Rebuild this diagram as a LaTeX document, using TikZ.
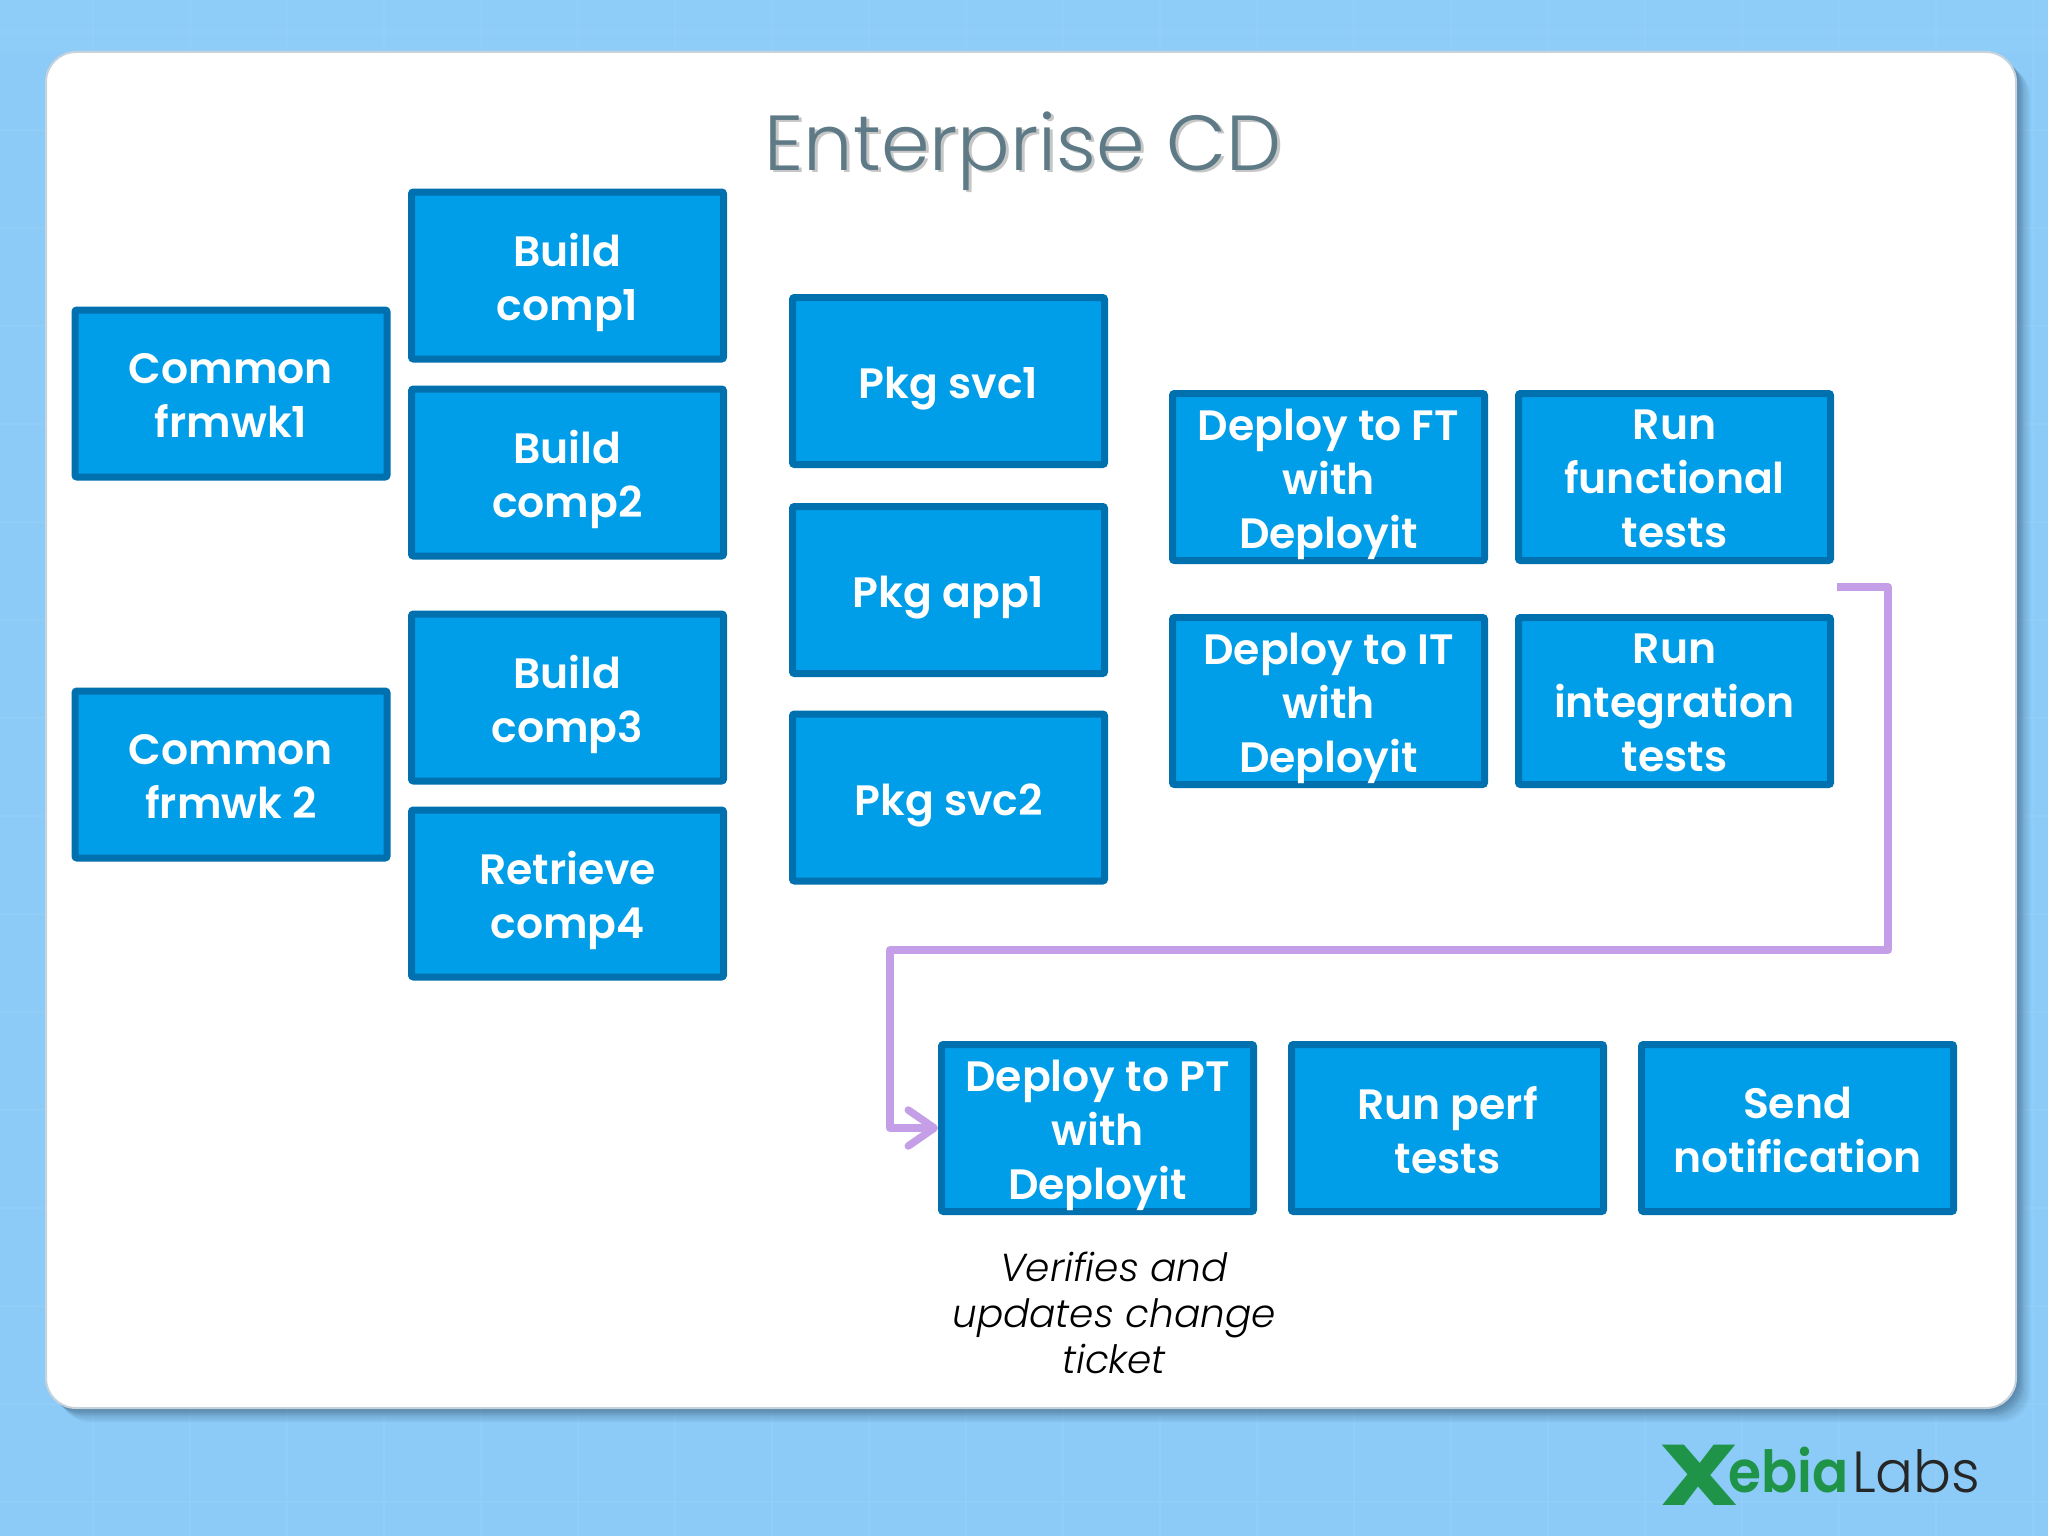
\documentclass[tikz,border=0pt]{standalone}
\usepackage{fontspec}
\usepackage{graphicx}
\setmainfont{Poppins}
\newfontfamily\popmed{Poppins SemiBold}
\newfontfamily\popx{Poppins ExtraBold}
\newfontfamily\poplight{Poppins Light}[ItalicFont={Poppins Light Italic}]
\usetikzlibrary{arrows.meta}
\definecolor{bgblue}{HTML}{8CCBF8}
\definecolor{bgtop}{HTML}{8FCDF9}
\definecolor{boxfill}{HTML}{009EE8}
\definecolor{boxline}{HTML}{0070AE}
\definecolor{flow}{HTML}{C49EE6}
\definecolor{titlecol}{HTML}{5D7A86}
\definecolor{shadowcol}{HTML}{3F5F7A}
\definecolor{cardedge}{HTML}{C6D3DC}
\definecolor{logogreen}{HTML}{1F9449}
\tikzset{
  task/.style={draw=boxline,fill=boxfill,line width=7pt,rounded corners=2pt,
    minimum width=312pt,minimum height=167pt,inner sep=0pt},
  tasktext/.style={inner sep=0pt,text=white,align=center,yshift=-7.5pt,
    font=\popmed\fontsize{42.5}{54}\selectfont,
    execute at begin node={\vphantom{Ag}},execute at end node={\vphantom{Ag}}},
  flowline/.style={draw=flow,line width=7.5pt,line join=round},
  gridline/.style={draw=white,opacity=0.04,line width=1.5pt},
  note/.style={align=center,text=black,font=\poplight\itshape\fontsize{39}{46}\selectfont},
  titletext/.style={anchor=base,font=\poplight\fontsize{78}{90}\selectfont},
  logotext/.style={anchor=base,inner sep=0pt,font=\fontsize{58}{60}\selectfont}
}
\begin{document}
\begin{tikzpicture}[x=1pt,y=-1pt]
\useasboundingbox (0,0) rectangle (2048,1536);
\fill[bgblue] (0,0) rectangle (2048,1536);
\fill[bgtop] (0,0) rectangle (2048,52);
\foreach \k in {0,...,20}
  \draw[gridline] (93+97*\k,0) -- (93+97*\k,1536);
\foreach \k in {0,...,15}
  \draw[gridline] (0,32+98*\k) -- (2048,32+98*\k);
\foreach \i in {14,12,10,8,7,6,5,4,3,2,1}
  \fill[shadowcol,opacity=0.08,rounded corners=30pt] (46+\i,52+\i) rectangle (2016+\i,1408+\i);
\draw[fill=white,draw=cardedge,line width=2pt,rounded corners=30pt] (46,52) rectangle (2016,1408);

\node[titletext,text=gray!45] (titleshadow) at (1026,172) {Enterprise CD};
\node[titletext,text=titlecol] (title) at (1023,170) {Enterprise CD};

\node[task,label={[tasktext]center:{Common\\frmwk1}}] (frmwka) at (231,393.5) {};
\node[task,label={[tasktext]center:{Common\\frmwk 2}}] (frmwkb) at (231,774.5) {};
\node[task,label={[tasktext]center:{Build\\comp1}}] (compa) at (567.5,275.5) {};
\node[task,label={[tasktext]center:{Build\\comp2}}] (compb) at (567.5,472.5) {};
\node[task,label={[tasktext]center:{Build\\comp3}}] (compc) at (567.5,697.5) {};
\node[task,label={[tasktext]center:{Retrieve\\comp4}}] (compd) at (567.5,893.5) {};
\node[task,label={[tasktext]center:{Pkg svc1}}] (svca) at (948.5,381) {};
\node[task,label={[tasktext]center:{Pkg app1}}] (appa) at (948.5,590) {};
\node[task,label={[tasktext]center:{Pkg svc2}}] (svcb) at (948.5,797.5) {};
\node[task,label={[tasktext]center:{Deploy to FT\\with\\Deployit}}] (deployft) at (1328.5,477) {};
\node[task,label={[tasktext]center:{Run\\functional\\tests}}] (runft) at (1674.5,477) {};
\node[task,label={[tasktext]center:{Deploy to IT\\with\\Deployit}}] (deployit) at (1328.5,701) {};
\node[task,label={[tasktext]center:{Run\\integration\\tests}}] (runit) at (1674.5,701) {};
\node[task,label={[tasktext]center:{Deploy to PT\\with\\Deployit}}] (deploypt) at (1097.5,1128) {};
\node[task,label={[tasktext]center:{Run perf\\tests}}] (runperf) at (1447.5,1128) {};
\node[task,label={[tasktext]center:{Send\\notification}}] (notify) at (1797.5,1128) {};

\coordinate (flowstart) at (1837,587);
\coordinate (flowright) at (1888,950);
\coordinate (flowleft) at (890,950);
\draw[flowline,-{Straight Barb[length=26pt,width=36pt,line width=7.5pt,round]}]
  (flowstart) -| (flowright) -- (flowleft) |- (deploypt.west);

\node[note] (ticket) at (1114,1313) {Verifies and\\updates change\\ticket};

\node[logotext,text=logogreen] (logox) at (1699,1505) {\bfseries\fontsize{86}{90}\selectfont\scalebox{1.3}[1]{X}};
\node[logotext,text=logogreen,anchor=base west] (logoa) at (1728,1492) {\popmed\scalebox{0.92}[1]{ebia}};
\node[logotext,text=black!85,anchor=base west] (logob) at (1852,1492) {\poplight\scalebox{0.97}[1]{Labs}};
\end{tikzpicture}
\end{document}
